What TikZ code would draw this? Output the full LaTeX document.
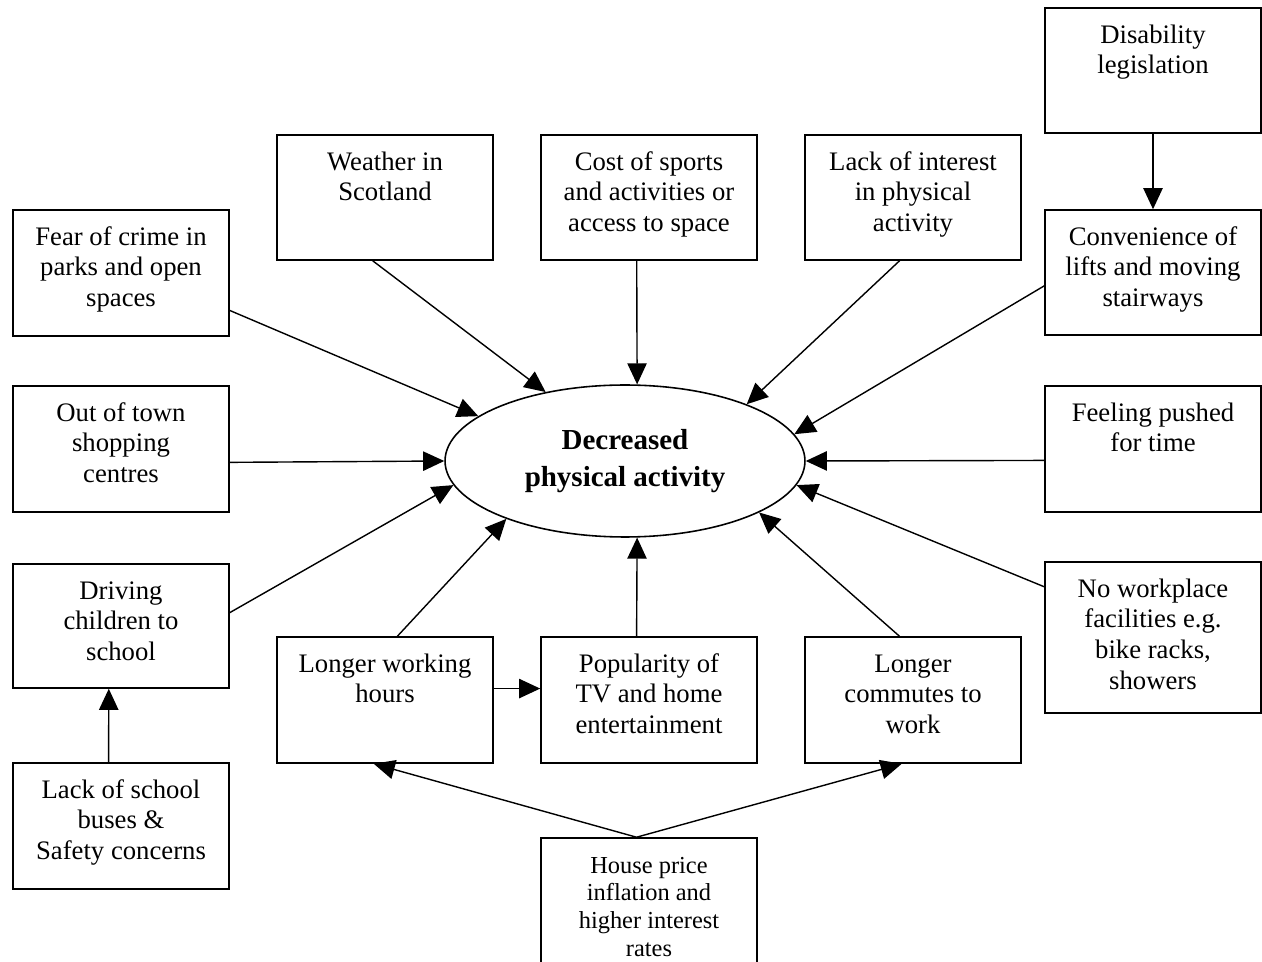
\documentclass[tikz,border=0pt]{standalone}
\usepackage{fontspec}
\setmainfont{Liberation Serif}
\usetikzlibrary{shapes.geometric,arrows.meta}
\newcommand{\boxtext}[2]{\parbox[c][#1][t]{4.32cm}{\centering\rule{0pt}{0.7cm}#2}}
\tikzset{
  box/.style={draw, line width=0.9pt, inner sep=0pt, font=\fontsize{15.2}{17.6}\selectfont},
  arr/.style={-{Triangle[length=12pt,width=11pt]}, line width=0.8pt}
}
\begin{document}
\begin{tikzpicture}[x=0.02cm, y=-0.02cm]
\useasboundingbox (0,0) rectangle (1262,962);
\node [ellipse, draw, line width=0.9pt, minimum width=7.2cm, minimum height=3.04cm, inner sep=0pt, align=center, font=\bfseries\fontsize{16.5}{20.9}\selectfont] (dpa) at (625,461) {Decreased\\physical activity};
\node [box] (dis) at (1153,70.5) {\boxtext{2.5cm}{Disability\\legislation}};
\node [box] (weather) at (385,197.5) {\boxtext{2.5cm}{Weather in\\Scotland}};
\node [box] (cost) at (649,197.5) {\boxtext{2.5cm}{Cost of sports\\and activities or\\access to space}};
\node [box] (interest) at (913,197.5) {\boxtext{2.5cm}{Lack of interest\\in physical\\activity}};
\node [box] (fear) at (121,273) {\boxtext{2.52cm}{Fear of crime in\\parks and open\\spaces}};
\node [box] (lifts) at (1153,272.5) {\boxtext{2.5cm}{Convenience of\\lifts and moving\\stairways}};
\node [box] (shops) at (121,449) {\boxtext{2.52cm}{Out of town\\shopping\\centres}};
\node [box] (time) at (1153,449) {\boxtext{2.52cm}{Feeling pushed\\for time}};
\node [box] (driving) at (121,626) {\boxtext{2.48cm}{Driving\\children to\\school}};
\node [box] (facilities) at (1153,637.5) {\boxtext{3.02cm}{No workplace\\facilities e.g.\\bike racks,\\showers}};
\node [box] (hours) at (385,700) {\boxtext{2.52cm}{Longer working\\hours}};
\node [box] (tv) at (649,700) {\boxtext{2.52cm}{Popularity of\\TV and home\\entertainment}};
\node [box] (commute) at (913,700) {\boxtext{2.52cm}{Longer\\commutes to\\work}};
\node [box] (buses) at (121,826) {\boxtext{2.52cm}{Lack of school\\buses \&\\Safety concerns}};
\node [box, font=\fontsize{13.9}{15.8}\selectfont] (house) at (649,908) {\boxtext{2.8cm}{House price\\inflation and\\higher interest\\rates}};
\draw [arr] (dis) -- (lifts);
\draw [arr] (lifts.187) -- (dpa.9);
\draw [arr] (weather.259) -- (dpa.139);
\draw [arr] (cost.259) -- (dpa.81);
\draw [arr] (interest.258) -- (dpa.25);
\draw [arr] (fear.341) -- (dpa.163);
\draw [arr] (shops.353) -- (dpa.180);
\draw [arr] (time.186) -- (dpa.0);
\draw [arr] (driving.7) -- (dpa.188);
\draw [arr] (hours.79) -- (dpa.206);
\draw [arr] (tv.101) -- (dpa.279);
\draw [arr] (commute.102) -- (dpa.339);
\draw [arr] (facilities.155) -- (dpa.352);
\draw [arr] (hours.6) -- (tv.174);
\draw [arr] (buses.101) -- (driving.259);
\draw [arr] (house.100) -- (hours.260);
\draw [arr] (house.100) -- (commute.260);
\end{tikzpicture}
\end{document}
